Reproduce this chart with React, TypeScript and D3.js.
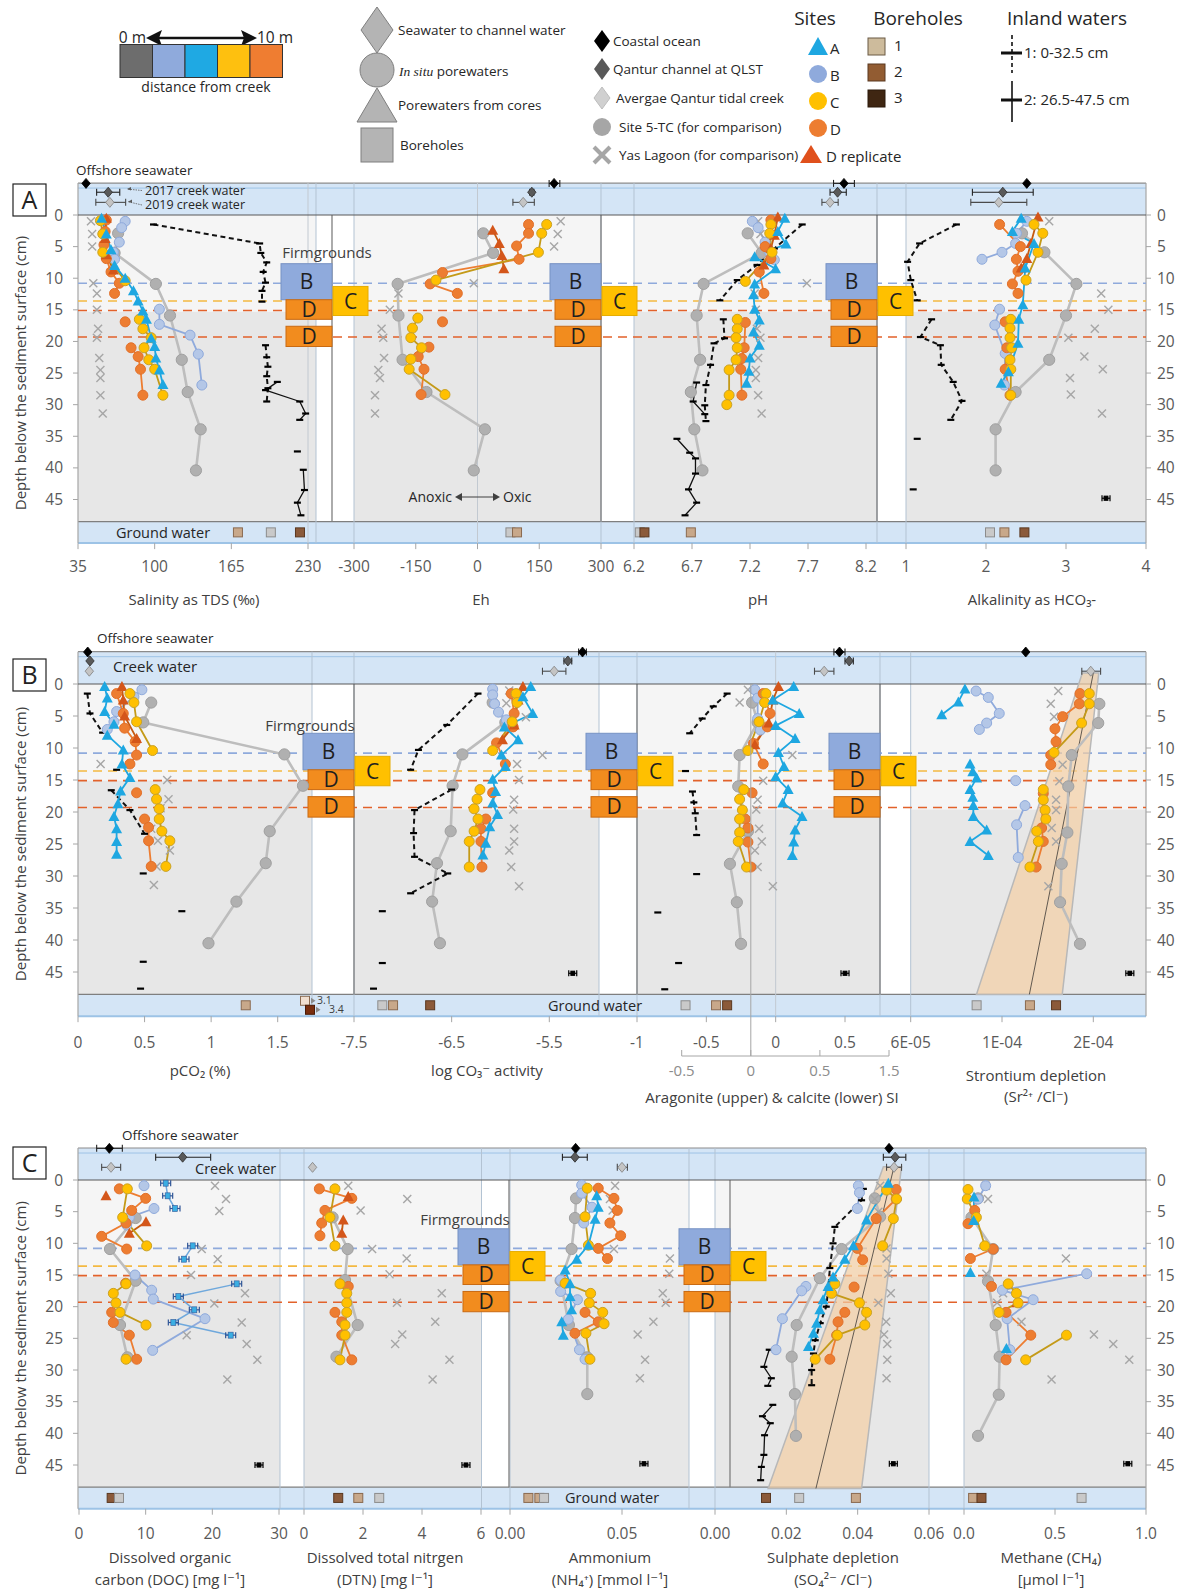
import React from 'react';
import * as d3 from 'd3';

type Pt = [number, number] | null;
type Ref = [string, number, number?, number?];
type Gw = [number, string];

// Depth (cm) / value pairs per site; null breaks a profile line.
// ---------- Salinity as TDS (‰) ----------
const tdsA: Pt[] = [[0.5, 55], [3, 59], [5.5, 63], [8, 66], [10, 75], [12, 82], [13.6, 86], [15.2, 90], [16.5, 93], [19.5, 97], [20.8, 100], [22.6, 101], [24.5, 104], [26.8, 107]];
const tdsB: Pt[] = [[1, 75], [2, 72], [4.3, 70], [5.9, 65], [7, 66], null, [14.9, 104], [17.3, 104], [19, 130], [22, 137], [26.9, 140]];
const tdsC: Pt[] = [[0.9, 54], [3, 56], [5.9, 56], [10.4, 75], null, [16.5, 87], [18, 90], [19.4, 97], [21, 91], [22.9, 95], [24.4, 100], [28.5, 107]];
const tdsD: Pt[] = [[0.8, 59], [2.6, 58], [4.7, 57], [6.9, 59], [9, 63], [10.8, 70], [12.4, 66], null, [16.9, 75], null, [21, 80], [22.4, 86], [24.4, 88], [28.5, 90]];
const tdsR: Pt[] = [[0.5, 59], [3.7, 58], [6.3, 59], [8.7, 65]];
const tdsT: Pt[] = [[2.9, 69], [6, 66], [10.9, 101], [15.9, 113], [22.9, 123], [28, 128], [33.9, 139], [40.4, 135]];
const tdsY: Pt[] = [[1, 46], [3, 47], [5, 47], [10.8, 48], [12.4, 51], [15, 51], [18, 52], [19.4, 51], [22.6, 53], [24.5, 54], [25.8, 54], [28.5, 54], [31.4, 56]];
const tdsI1: Pt[] = [[1.5, 99], [4.5, 189], [6, 190], [7.5, 195], [9, 192], [10.7, 194], [12, 191], [13.7, 191], null, [20.6, 194], [22.5, 195], [24, 196], [25.5, 195], [27.4, 196], [29.5, 195]];
const tdsI2: Pt[] = [[26.4, 204], [27.7, 194], [29.5, 223], [31.4, 228], [32.4, 223], null, [37.4, 221], null, [40.3, 226], [43.5, 227], [45.5, 221], [47.5, 224]];
const tdsRef: Ref[] = [['o', 41.8], ['h', 60.6, 50.8, 70.4], ['k', 62, 50.1, 75.4]];
const tdsGw: Gw[] = [[170.6, 't'], [198.5, 'g'], [223.2, 'b']];

// ---------- Eh (mV) ----------
const ehC: Pt[] = [[1.5, 168], [2.9, 156], [5.9, 148], [10.3, -101], null, [16.3, -145], [17.9, -158], [19.4, -162], [21, -136], [22.8, -162], [24.4, -166], [28.4, -79]];
const ehD: Pt[] = [[1.5, 124], [2.9, 124], [4.9, 95], [7, 101], [9.1, -85], [10.9, -115], [12.4, -49], null, [16.9, -85], null, [20.9, -118], [22.4, -144], [24.4, -130], [28.4, -137]];
const ehR: Pt[] = [[2.4, 37], [4.5, 53], [6.4, 59], [8.5, 64]];
const ehT: Pt[] = [[2.9, 14], [6, 38], [10.9, -194], [15.9, -192], [22.9, -182], [28, -124], [33.9, 18], [40.4, -9]];
const ehY: Pt[] = [[1, 202], [3, 195], [5, 186], [10.8, -9], [12.4, -192], [15, -213], [18, -233], [19.4, -229], [22.6, -227], [24.5, -241], [25.8, -237], [28.5, -249], [31.4, -249]];
const ehRef: Ref[] = [['o', 186, 174, 200], ['h', 132, 127, 137], ['k', 111, 86, 138]];
const ehGw: Gw[] = [[80, 'g'], [96, 't']];

// ---------- pH ----------
const phA: Pt[] = [[0.5, 7.5], [2.6, 7.44], [4.6, 7.51], [6.6, 7.24], [8.5, 7.42], [10.9, 7.24], [12.6, 7.23], [14.9, 7.24], [16.6, 7.28], [18.5, 7.23], [20.6, 7.28], [22.6, 7.2], [24.7, 7.19], [26.6, 7.17]];
const phB: Pt[] = [[1, 7.22], [2, 7.27], [4.3, 7.33], [5.9, 7.37], [7.1, 7.41]];
const phC: Pt[] = [[1.5, 7.38], [2.9, 7.37], [5.9, 7.39], [10.5, 7.16], null, [16.5, 7.09], [18, 7.09], [19.4, 7.08], [21, 7.09], [22.9, 7.08], [24.5, 7.02], [28.5, 7.02], [30, 7.0]];
const phD: Pt[] = [[0.8, 7.38], [5, 7.33], [6.9, 7.38], [9, 7.28], [12.4, 7.32], null, [17, 7.16], [21, 7.15], [22.7, 7.13], [24.4, 7.12], [28.5, 7.13]];
const phR: Pt[] = [[0.3, 7.44], [3.2, 7.41], [5.3, 7.38], [7.9, 7.32]];
const phT: Pt[] = [[2.9, 7.18], [6, 7.3], [10.9, 6.8], [15.9, 6.74], [22.9, 6.77], [28, 6.69], [33.9, 6.72], [40.4, 6.79]];
const phY: Pt[] = [[1, 7.27], [3, 7.29], [5, 7.33], [10.8, 7.69], [12.4, 7.24], [15, 7.25], [18, 7.26], [19.4, 7.29], [22.6, 7.27], [24.5, 7.25], [25.8, 7.25], [28.5, 7.27], [31.4, 7.3]];
const phI1: Pt[] = [[1.5, 7.65], [5.3, 7.41], [7.9, 7.26], [10.3, 7.09], [13.5, 6.94], null, [16.5, 6.97], [19.5, 6.98], [20.3, 6.89], [23.7, 6.86], [26.9, 6.82], [30.1, 6.81], [32.6, 6.82]];
const phI2: Pt[] = [[26.5, 6.74], [29.5, 6.71], [31.5, 6.81], null, [35.4, 6.57], [37.6, 6.68], [38.5, 6.73], [40.9, 6.73], [43.4, 6.67], [45.5, 6.74], [47.5, 6.64]];
const phRef: Ref[] = [['o', 8.01, 7.92, 8.1], ['h', 7.955, 7.89, 8.03], ['k', 7.89, 7.82, 7.96]];
const phGw: Gw[] = [[6.25, 'g'], [6.29, 'b'], [6.69, 't']];

// ---------- Alkalinity as HCO3- ----------
const alkA: Pt[] = [[0.5, 2.44], [2.6, 2.33], [4.5, 2.6], [8.4, 2.49], [14.2, 2.46], [16.5, 2.41], [20.3, 2.4], [24.8, 2.28], [26.6, 2.19]];
const alkB: Pt[] = [[1, 2.51], [2.9, 2.38], [4.5, 2.37], [5.9, 2.2], [7, 1.95], null, [14.9, 2.17], [17.4, 2.11], [21.9, 2.24], [26.9, 2.23]];
const alkC: Pt[] = [[1.5, 2.6], [2.9, 2.71], [5.9, 2.65], [10.3, 2.5], null, [16.5, 2.31], [17.9, 2.3], [19.4, 2.3], [21, 2.32], [22.9, 2.3], [24.4, 2.31], [28.5, 2.31]];
const alkD: Pt[] = [[1.5, 2.17], [5, 2.43], [7, 2.38], [8.9, 2.4], [10.9, 2.33], [12.4, 2.4], null, [16.9, 2.24], null, [21, 2.26], [24.4, 2.24], [28.5, 2.3]];
const alkR: Pt[] = [[0.3, 2.65], [4.5, 2.56], [6.9, 2.51], [8.4, 2.44]];
const alkT: Pt[] = [[2.9, 2.45], [5.9, 2.73], [10.9, 3.13], [15.9, 3.0], [22.9, 2.79], [28, 2.37], [33.9, 2.12], [40.4, 2.12]];
const alkY: Pt[] = [[1, 2.79], [12.4, 3.44], [15, 3.53], [18, 3.36], [19.4, 3.03], [22.4, 3.23], [24.4, 3.46], [25.8, 3.05], [28.4, 3.06], [31.4, 3.45]];
const alkI1: Pt[] = [[1.5, 1.63], [4.5, 1.17], [7.4, 1.02], [10.3, 1.06], [13.5, 1.14], null, [16.5, 1.32], [19.3, 1.18], [20.6, 1.43], [23.7, 1.44], [26.4, 1.59], [29.4, 1.7], [32.4, 1.56]];
const alkI2: Pt[] = [[35.4, 1.14], null, [43.4, 1.09]];
const alkRef: Ref[] = [['o', 2.51], ['h', 2.21, 1.83, 2.59], ['k', 2.16, 1.81, 2.51]];
const alkGw: Gw[] = [[2.05, 'g'], [2.23, 't'], [2.48, 'b']];
const alkErr: [number, number] = [44.8, 3.5];

// ---------- pCO2 (%) ----------
const pco2A: Pt[] = [[0.4, 0.2], [2.2, 0.22], [4.3, 0.2], [6.3, 0.27], [8, 0.22], [10.3, 0.34], [12.5, 0.33], [14.6, 0.39], [16.7, 0.32], [18.7, 0.3], [20.7, 0.27], [22.6, 0.29], [24.6, 0.29], [26.6, 0.29]];
const pco2B: Pt[] = [[0.9, 0.48], [2, 0.42], [4.3, 0.29], [5.9, 0.27], [7.1, 0.22]];
const pco2C: Pt[] = [[1.5, 0.39], [2.9, 0.42], [5.9, 0.44], [10.4, 0.56], null, [16.5, 0.58], [18, 0.59], [19.5, 0.61], [21.1, 0.61], [23, 0.63], [24.5, 0.69], [28.5, 0.66]];
const pco2D: Pt[] = [[1.5, 0.29], [4.6, 0.34], [6.9, 0.35], [9, 0.43], [11.1, 0.44], [12.5, 0.39], null, [17, 0.44], null, [21.1, 0.5], [22.4, 0.53], [24.5, 0.53], [28.5, 0.55]];
const pco2R: Pt[] = [[0.4, 0.33], [2.5, 0.34], [5, 0.35], [8.5, 0.44]];
const pco2T: Pt[] = [[2.9, 0.55], [6, 0.49], [11, 1.55], [15.9, 1.69], [23, 1.44], [28, 1.41], [34, 1.19], [40.5, 0.98]];
const pco2Y: Pt[] = [[12.5, 0.17], [15, 0.67], [18, 0.68], [19.4, 0.62], [22.6, 0.55], [24.5, 0.6], [26, 0.69], [28.5, 0.59], [31.4, 0.57]];
const pco2I1: Pt[] = [[1.5, 0.07], [4.6, 0.09], [7.6, 0.185], null, [13.4, 0.29], null, [16.6, 0.25], [19.7, 0.39], [23.4, 0.5]];
const pco2I2: Pt[] = [[29.6, 0.49], null, [35.5, 0.78], null, [43.4, 0.49], null, [47.6, 0.47]];
const pco2Ref: Ref[] = [['o', 0.073], ['h', 0.09], ['k', 0.085]];
const pco2Gw: Gw[] = [[1.26, 't'], [3.1, 'l'], [3.4, 'd']];

// ---------- log CO3 activity ----------
const lcA: Pt[] = [[0.4, -5.69], [2, -5.77], [4.6, -5.67], [6.7, -5.96], [8.7, -5.82], [11.1, -5.99], [12.9, -5.95], [14.9, -6.08], [16.8, -6.05], [18.6, -6.08], [20.4, -6.03], [22.3, -6.11], [24.9, -6.15], [26.7, -6.18]];
const lcB: Pt[] = [[0.8, -6.08], [1.7, -6.08], [3.1, -6.06], [4.4, -6.02], [5.6, -5.94]];
const lcC: Pt[] = [[1.5, -5.84], [2.9, -5.83], [5.9, -5.88], [10.4, -6.08], null, [16.5, -6.21], [18, -6.24], [19.5, -6.27], [21.1, -6.23], [23, -6.27], [24.6, -6.32], [28.6, -6.32]];
const lcD: Pt[] = [[1.5, -5.89], [4.6, -5.86], [6.7, -5.87], [9.2, -6.04], [12.5, -5.95], null, [17, -6.08], null, [21.1, -6.15], [22.6, -6.2], [24.6, -6.2], [28.6, -6.19]];
const lcR: Pt[] = [[0.4, -5.77], [2.5, -5.82], [6.4, -5.86], [8.7, -5.98]];
const lcT: Pt[] = [[2.9, -6.08], [6, -5.95], [11, -6.39], [15.9, -6.49], [23, -6.51], [28, -6.65], [34, -6.7], [40.5, -6.62]];
const lcY: Pt[] = [[1, -5.91], [3, -5.94], [5.2, -5.74], [11.1, -5.57], [12.5, -5.83], [15, -5.81], [18.1, -5.86], [19.6, -5.87], [22.6, -5.86], [24.6, -5.86], [26, -5.91], [28.6, -5.89], [31.6, -5.81]];
const lcI1: Pt[] = [[1.5, -6.23], [6.4, -6.55], [10.3, -6.84], [13.4, -6.92], null, [16.5, -6.5], [19.7, -6.88], [23.3, -6.89], [27, -6.88], [29.6, -6.54], [32.7, -6.92]];
const lcI2: Pt[] = [[35.5, -7.21], null, [43.6, -7.21], null, [47.6, -7.3]];
const lcRef: Ref[] = [['o', -5.16, -5.2, -5.12], ['h', -5.31, -5.35, -5.27], ['k', -5.45, -5.57, -5.33]];
const lcGw: Gw[] = [[-7.21, 'g'], [-7.1, 't'], [-6.72, 'b']];
const lcErr: [number, number] = [45.2, -5.26];

// ---------- Aragonite (upper) & calcite (lower) SI ----------
const arA: Pt[] = [[0.4, 0.13], [2.5, -0.02], [4.6, 0.17], [6.5, 0.0], [8.5, 0.14], [10.7, 0.02], [12.9, 0.06], [14.5, 0.0], [16.5, 0.09], [18.6, 0.05], [20.7, 0.19], [22.8, 0.14], [24.7, 0.13], [26.8, 0.12]];
const arB: Pt[] = [[0.9, -0.15], [2.2, -0.13], [5.4, -0.13], [7.2, -0.11]];
const arC: Pt[] = [[1.5, -0.07], [2.9, -0.08], [5.9, -0.12], [10.4, -0.2], null, [16.5, -0.23], [18, -0.26], [19.7, -0.24], [21.1, -0.26], [23.2, -0.26], [24.6, -0.27], [28.6, -0.21]];
const arD: Pt[] = [[1.5, -0.09], [4.6, -0.04], [6.7, -0.06], [9.3, -0.16], [12.5, -0.09], null, [17, -0.17], null, [21.1, -0.22], [22.5, -0.2], [24.7, -0.2], [28.6, -0.18]];
const arR: Pt[] = [[0.4, 0.02], [2.5, -0.02], [6.1, -0.05], [9.5, -0.15]];
const arT: Pt[] = [[2.9, -0.17], [6, -0.13], [11.1, -0.26], [16, -0.27], [23, -0.2], [28.1, -0.33], [34.1, -0.28], [40.6, -0.25]];
const arY: Pt[] = [[0.9, -0.2], [2.9, -0.26], [11.1, 0.12], [15.1, -0.09], [18.1, -0.13], [19.6, -0.14], [22.6, -0.12], [24.6, -0.1], [26, -0.15], [28.6, -0.13], [31.6, -0.02]];
const arI1: Pt[] = [[1.5, -0.35], [3.5, -0.45], [5.4, -0.53], [7.7, -0.62], null, [13.6, -0.65], null, [16.8, -0.6], [18.5, -0.59], [20.2, -0.58], [23.6, -0.57]];
const arI2: Pt[] = [[29.7, -0.57], null, [35.7, -0.85], null, [43.6, -0.7], null, [47.7, -0.8]];
const arRef: Ref[] = [['o', 0.46, 0.42, 0.5], ['h', 0.53, 0.5, 0.56], ['k', 0.35, 0.28, 0.42]];
const arGw: Gw[] = [[-0.65, 'g'], [-0.43, 't'], [-0.35, 'b']];
const arErr: [number, number] = [45.2, 0.5];
const calciteTicks = [-0.5, 0, 0.5, 1];
const calciteLabels = ['-0.5', '0', '0.5', '1.5'];

// ---------- Strontium depletion (Sr2+/Cl-), in 1e-5 ----------
const srA: Pt[] = [[0.8, 8.97], [2.8, 8.61], [4.8, 7.7], null, [12.5, 9.25], [13.7, 9.4], [14.7, 9.61], [16.5, 9.25], [17.7, 9.4], [19, 9.43], [20.7, 9.43], [22.8, 10.16], [24.6, 9.25], [26.8, 10.25]];
const srB: Pt[] = [[1.1, 9.58], [2.1, 10.25], [4.6, 10.85], [6.1, 10.16], [7.1, 9.76], null, [15.1, 11.75], null, [19, 12.26], [22, 11.8], [27.1, 11.89]];
const srC: Pt[] = [[1.5, 15.78], [3.1, 15.78], [6.1, 15.36], [10.7, 13.85], null, [16.5, 13.26], [18.1, 13.26], [19.7, 13.36], [21.1, 13.4], [23, 12.9], [24.6, 12.99], [28.6, 12.53]];
const srD: Pt[] = [[1.5, 15.27], [3.1, 15.24], [5.1, 14.32], [7, 13.9], [9, 13.96], [11.1, 13.67], [12.6, 13.67], null, [17.1, 13.26], [22.5, 13.17], [24.6, 13.26], [28.6, 12.87]];
const srT: Pt[] = [[3.1, 16.33], [6.1, 16.27], [11.1, 14.82], [16, 14.63], [23.2, 14.58], [28.1, 14.27], [34.1, 14.18], [40.6, 15.27]];
const srY: Pt[] = [[1.1, 14.08], [3.1, 13.67], [5.1, 13.85], [12.6, 14.32], [15.2, 14.14], [18.1, 13.96], [19.7, 13.96], [22.5, 13.72], [24.6, 13.96], [31.6, 13.54]];
const srRef: Ref[] = [['o', 12.3], ['k', 15.86, 15.37, 16.4]];
const srGw: Gw[] = [[9.61, 'g'], [12.53, 't'], [13.96, 'b']];
const srErr: [number, number] = [45.2, 18.0];
const srWedge = [[-1.7, 15.4, 16.3, 16.0], [48.5, 9.6, 14.3, 12.5]];

// ---------- Dissolved organic carbon (mg/l) ----------
const docA: Pt[] = [[0.5, 13], [2.5, 13.3], [4.5, 14.4], null, [10.4, 17.05], [12.5, 15.75], null, [16.4, 23.65], [18.4, 14.9], [20.5, 17.3], [22.5, 14.15], [24.5, 22.75]];
const docB: Pt[] = [[0.9, 9.75], null, [4.5, 11.25], [5.9, 7.55], [7.1, 7.15], null, [15, 8.4], [17.4, 10.9], [18.8, 11.15], [21.9, 18.9], [26.9, 11.05]];
const docC: Pt[] = [[1.4, 7.25], [5.9, 6.55], [10.4, 10.15], null, [16.4, 7.05], [17.9, 5.15], [19.4, 5.55], [20.9, 6.15], [22.9, 10.05], null, [28.3, 7.05]];
const docD: Pt[] = [[1.4, 6.05], [2.9, 10], [4.8, 7.9], [6.8, 7.05], [8.9, 3.4], [10.9, 7.15], null, [16.3, 7], null, [20.9, 4.9], [22.5, 5.15], [24.5, 7.55], [28.3, 8.65]];
const docR: Pt[] = [[2.5, 4.05], null, [6.6, 10.05], [8.4, 7.55]];
const docT: Pt[] = [[6, 8.5], [10.9, 4.65], [15.9, 8.5], [22.9, 6.15], [28, 7.25]];
const docY: Pt[] = [[0.9, 20.4], [3, 22.05], [4.9, 21.05], [10.9, 18.4], [12.5, 20.8], [15, 16.8], [17.9, 24.9], [19.5, 20.3], [22.5, 24.4], [24.5, 16.15], [25.9, 25.15], [28.4, 26.75], [31.5, 22.25]];
const docRef: Ref[] = [['o', 4.55, 2.65, 6.5], ['h', 15.55, 11.5, 19.75], ['k', 4.8, 3.4, 6.25]];
const docGw: Gw[] = [[4.9, 'b'], [6.0, 'g']];
const docErr: [number, number] = [45, 27];

// ---------- Dissolved total nitrogen (mg/l) ----------
const dtnC: Pt[] = [[1.4, 1.05], [5.9, 0.88], [10.4, 1.05], null, [16.4, 1.22], [17.9, 1.45], [19.4, 1.45], [20.9, 1.45], [22.9, 1.39], [24.5, 1.39], [28.4, 1.22]];
const dtnD: Pt[] = [[1.4, 0.52], [2.9, 1.62], [4.8, 0.71], [6.8, 0.6], [8.8, 0.54], null, [16.8, 1.5], null, [20.9, 1.05], [22.4, 1.28], [24.5, 1.28], [28.4, 1.62]];
const dtnR: Pt[] = [[2.6, 1.5], null, [6.3, 1.33], [8.4, 1.28]];
const dtnT: Pt[] = [[5.9, 0.97], [10.9, 1.48], [15.8, 1.39], [22.9, 1.82], [27.9, 1.1]];
const dtnY: Pt[] = [[0.9, 1.5], [3, 3.5], [4.8, 1.92], [10.9, 2.31], [12.4, 3.48], [14.9, 2.9], [17.9, 4.67], [19.4, 3.15], [22.4, 4.45], [24.4, 3.33], [25.9, 3.09], [28.4, 4.93], [31.5, 4.36]];
const dtnRef: Ref[] = [['k', 0.29]];
const dtnGw: Gw[] = [[1.16, 'b'], [1.84, 't'], [2.55, 'g']];
const dtnErr: [number, number] = [45, 5.49];

// ---------- Ammonium (mmol/l) ----------
const nhA: Pt[] = [[2.5, 0.0387], [4.3, 0.0394], [6.2, 0.038], [10.3, 0.035], [12.5, 0.0298], [14.2, 0.0246], [16.4, 0.0268], [18.4, 0.0268], [20.5, 0.0275], [22.4, 0.0231], [24.5, 0.0238]];
const nhB: Pt[] = [[0.8, 0.032], [2.1, 0.032], [4.3, 0.0366], [6.8, 0.0329], null, [15.8, 0.0226], [17.6, 0.0226], [18.9, 0.0301], [22, 0.026], [26.8, 0.031], [28.3, 0.0335]];
const nhC: Pt[] = [[1.3, 0.0345], [5.8, 0.0335], [10.3, 0.035], null, [16.3, 0.0246], [17.9, 0.036], [19.4, 0.0354], [20.9, 0.0414], [22.7, 0.042], [24.2, 0.0339], [28.3, 0.0357]];
const nhD: Pt[] = [[1.3, 0.0394], [2.9, 0.0464], [4.8, 0.0479], [6.8, 0.0446], [8.8, 0.0494], [10.8, 0.0394], [12.4, 0.0435], null, [20.9, 0.0335], [22.4, 0.0394], [24.2, 0.029]];
const nhT: Pt[] = [[2.9, 0.0295], [6, 0.029], [10.9, 0.0275], [15.9, 0.0226], [22.9, 0.0263], [28, 0.0345], [33.8, 0.0345]];
const nhY: Pt[] = [[0.9, 0.0469], [3, 0.0446], [4.8, 0.0458], [10.9, 0.0464], [12.4, 0.0714], [14.8, 0.0711], [17.9, 0.0682], [19.4, 0.0695], [22.4, 0.064], [24.4, 0.057], [28.4, 0.0603], [31.3, 0.058]];
const nhRef: Ref[] = [['o', 0.0293], ['h', 0.029, 0.0234, 0.0345], ['k', 0.05, 0.0479, 0.0524]];
const nhGw: Gw[] = [[0.0082, 't'], [0.0131, 't'], [0.0152, 'g']];
const nhErr: [number, number] = [44.8, 0.0598];

// ---------- Sulphate depletion (SO4/Cl) ----------
const soA: Pt[] = [[0.5, 0.0486], [6.3, 0.0425], [10.4, 0.0388], [12.5, 0.0364], [15.3, 0.0331], [16.8, 0.0317], [18.9, 0.0303], [20.5, 0.0294], [22.6, 0.0285], [24.2, 0.0276], [26.3, 0.0262]];
const soB: Pt[] = [[0.9, 0.0402], [2, 0.0405], [4.5, 0.0399], null, [16.8, 0.0255], [17.5, 0.0243], [21.9, 0.0189], [26.8, 0.0171]];
const soC: Pt[] = [[1.6, 0.0481], [3, 0.0509], [6.1, 0.05], [10.4, 0.047], null, [16.4, 0.0336], [17.9, 0.0327], [19.4, 0.0405], [20.9, 0.0425], [22.9, 0.042], [24.5, 0.0343], [28.3, 0.0281]];
const soD: Pt[] = [[1.5, 0.0508], [3, 0.0508], [6.1, 0.0452], [10.8, 0.0399], [12.6, 0.0414], null, [16.9, 0.039], null, [20.9, 0.0364], [22.4, 0.0345], [24.5, 0.0341], [28.3, 0.0322]];
const soT: Pt[] = [[2.9, 0.0448], [5.8, 0.0463], [10.9, 0.0355], [15.5, 0.0294], [22.9, 0.0229], [27.9, 0.0215], [33.8, 0.0224], [40.4, 0.0227]];
const soY: Pt[] = [[0.9, 0.0463], [3, 0.0448], [5, 0.0458], [10.8, 0.0481], [12.4, 0.0481], [14.8, 0.0486], [17.9, 0.0493], [19.4, 0.0458], [22.4, 0.048], [24.4, 0.0474], [25.9, 0.0483], [28.4, 0.0483], [31.3, 0.0481]];
const soI1: Pt[] = [[1.4, 0.0416], [3.2, 0.0411], [7.4, 0.0336], [10, 0.0331], [13.9, 0.0322], [17, 0.0318], [20, 0.0312], [22.6, 0.0295], [25.3, 0.0281], [27.4, 0.0276], [30, 0.0271], [32.4, 0.0271]];
const soI2: Pt[] = [[26.8, 0.0152], [29.5, 0.0137], [31.3, 0.0158], [32.5, 0.0148], null, [35.5, 0.0162], [37.3, 0.0133], [38.4, 0.0155], [40.3, 0.0139], [43.4, 0.0137], [45.3, 0.013], [47.4, 0.0128]];
const soRef: Ref[] = [['o', 0.0488], ['h', 0.0505, 0.0472, 0.0535], ['k', 0.0502, 0.0481, 0.0523]];
const soGw: Gw[] = [[0.0143, 'b'], [0.0236, 'g'], [0.0395, 't']];
const soErr: [number, number] = [44.8, 0.05];
const soWedge = [[-2.1, 0.0472, 0.0523, 0.0502], [48.7, 0.0149, 0.0411, 0.0283]];

// ---------- Methane (µmol/l) ----------
const chA: Pt[] = [[2.7, 0.055], [6.4, 0.053], null, [14.6, 0.035], null, [26.6, 0.233]];
const chB: Pt[] = [[0.9, 0.119], [3, 0.077], null, [14.8, 0.674], [17.4, 0.211], [18.9, 0.38], [21.9, 0.237], [26.8, 0.252]];
const chC: Pt[] = [[1.5, 0.022], [3, 0.018], [5.9, 0.068], [10.4, 0.114], null, [16.4, 0.243], [17.9, 0.288], [19.4, 0.297], [20.9, 0.193], null, [24.5, 0.563], [28.4, 0.339]];
const chD: Pt[] = [[4.8, 0.059], [6.9, 0.022], null, [10.9, 0.16], [12.4, 0.035], null, [16.8, 0.151], null, [20.9, 0.231], [24.5, 0.367], [28.4, 0.231]];
const chR: Pt[] = [[19.4, 0.29]];
const chT: Pt[] = [[2.9, 0.077], [5.9, 0.041], [10.9, 0.16], [16, 0.132], [22.9, 0.174], [27.9, 0.196], [33.9, 0.191], [40.4, 0.077]];
const chY: Pt[] = [[0.9, 0.12], [3, 0.132], [12.4, 0.56], [14.8, 0.123], [17.9, 0.215], [19.4, 0.182], [22.4, 0.316], [24.4, 0.714], [25.9, 0.82], [28.4, 0.908], [31.5, 0.481]];
const chGw: Gw[] = [[0.05, 't'], [0.096, 'b'], [0.646, 'g']];
const chErr: [number, number] = [44.8, 0.9];

// Firmground horizons and boxes
const horizonDepths = [10.8, 13.6, 15.1, 19.3];
const horizonColors = ['#8faadc', '#f4b942', '#e2622b', '#e2622b'];
const firmBoxes: [string, number, number][] = [['B', 7.7, 13.4], ['D', 13.4, 16.5], ['D', 17.6, 20.8], ['C', 11.3, 15.9]];
const depthTicks = [0, 5, 10, 15, 20, 25, 30, 35, 40, 45];

// ---------------------------------------------------------------
const FONT = "'Open Sans', 'DejaVu Sans', sans-serif";
const INK = '#595959';
const LEFT = 78;
const RIGHT = 1146;
const BAND_TOP = -5.05;
const PLOT_BOTTOM = 48.5;
const GW_BOTTOM = 51.9;
const GW_MID = 50.2;
const REF_DEPTH: Record<string, number> = { o: -5.0, h: -3.6, k: -2.0 };

const diamond = (x: number, y: number, w: number, h: number) =>
  `M${x},${y - h}L${x + w},${y}L${x},${y + h}L${x - w},${y}Z`;
const triangle = (x: number, y: number, w: number, h: number) =>
  `M${x},${y - h * 0.55}L${x + w},${y + h * 0.45}L${x - w},${y + h * 0.45}Z`;

const excelExp = (v: number) => {
  const [m, e] = (v * 1e-5).toExponential(0).split('e');
  const n = Math.abs(+e);
  return `${m}E${+e < 0 ? '-' : '+'}${String(n).padStart(2, '0')}`;
};

const LINE_STYLE: Record<string, { c?: string; w?: number; dash?: string }> = {
  T: { c: '#bdbdbd', w: 2.6 },
  Y: {},
  I1: { c: '#111', w: 2, dash: '5,3.5' },
  I2: { c: '#111', w: 1.3 },
  B: { c: '#8faadc', w: 1.8 },
  D: { c: '#ed7d31', w: 1.8 },
  R: { c: '#c55a11', w: 1.8 },
  C: { c: '#c49a18', w: 1.8 },
  A: { c: '#1ea7e1', w: 1.8 },
  AE: { c: '#6fa8dc', w: 1.5 },
};

function Marker({ kind, x, y }: { kind: string; x: number; y: number }) {
  switch (kind) {
    case 'T':
      return <circle cx={x} cy={y} r={5.6} fill="#b0b0b0" stroke="#a0a0a0" strokeWidth={1} />;
    case 'B':
      return <circle cx={x} cy={y} r={5} fill="#b4c7e7" stroke="#8faadc" strokeWidth={1} />;
    case 'C':
      return <circle cx={x} cy={y} r={5} fill="#ffc000" stroke="#c9a227" strokeWidth={1} />;
    case 'D':
      return <circle cx={x} cy={y} r={5} fill="#ed7d31" stroke="#e2702a" strokeWidth={1} />;
    case 'R':
      return <path d={triangle(x, y, 5.5, 10)} fill="#d4561a" />;
    case 'A':
      return <path d={triangle(x, y, 5.5, 10)} fill="#1ea7e1" />;
    case 'AE':
      return (
        <g stroke="#2f5597" strokeWidth={1.2}>
          <line x1={x - 5} x2={x + 5} y1={y} y2={y} />
          <line x1={x - 5} x2={x - 5} y1={y - 3} y2={y + 3} />
          <line x1={x + 5} x2={x + 5} y1={y - 3} y2={y + 3} />
          <rect x={x - 2.5} y={y - 3} width={5} height={6} fill="#3aaee3" strokeWidth={0.6} />
        </g>
      );
    case 'Y':
      return (
        <g stroke="#a6a6a6" strokeWidth={1.4}>
          <line x1={x - 4} y1={y - 4} x2={x + 4} y2={y + 4} />
          <line x1={x - 4} y1={y + 4} x2={x + 4} y2={y - 4} />
        </g>
      );
    case 'I1':
    case 'I2':
      return <line x1={x - 3.5} x2={x + 3.5} y1={y} y2={y} stroke="#000" strokeWidth={2.2} />;
    default:
      return null;
  }
}

const GW_FILL: Record<string, [string, string]> = {
  g: ['#c9c9c9', '#8c8c8c'],
  t: ['#c8a88a', '#8a6a50'],
  b: ['#8b5a3a', '#5a3820'],
  l: ['#f1dfd0', '#8a6a50'],
  d: ['#7a2e0e', '#4a1a05'],
};

type Series = { kind: string; data: Pt[] };
const ser = (kind: string, data: Pt[]): Series => ({ kind, data });

interface Sub {
  area: [number, number];
  dom: [number, number];
  rng: [number, number];
  ticks: number[];
  fmt: (v: number) => string;
  darkFrom: number;
  title: string[];
  titleX: number;
  titleY: number[];
  series: Series[];
  refs?: Ref[];
  gw?: Gw[];
  err?: [number, number];
  wedge?: number[][];
  axisAt?: number[];
}

interface PanelCfg {
  letter: string;
  boxY: number;
  y0: number;
  y45: number;
  tickY: number;
  dividers: number[];
  firmX: number;
  firmD: number;
  gwLabelX: number;
  offshoreX: number;
  subs: Sub[];
  extra?: (y: d3.ScaleLinear<number, number>) => React.ReactNode;
}

function SubData({ s, y }: { s: Sub; y: d3.ScaleLinear<number, number> }) {
  const x = d3.scaleLinear().domain(s.dom).range(s.rng);
  const line = d3
    .line<Pt>()
    .defined((d) => d !== null)
    .x((d) => x((d as [number, number])[1]))
    .y((d) => y((d as [number, number])[0]));
  const xMax = s.area[1];
  let off = 0;
  return (
    <g>
      {s.wedge && (
        <g>
          <path
            d={`M${x(s.wedge[0][1])},${y(s.wedge[0][0])}L${x(s.wedge[0][2])},${y(s.wedge[0][0])}L${x(s.wedge[1][2])},${y(s.wedge[1][0])}L${x(s.wedge[1][1])},${y(s.wedge[1][0])}Z`}
            fill="#f4cfa4"
            fillOpacity={0.7}
            stroke="#b8b8b8"
            strokeWidth={1.5}
          />
          <line
            x1={x(s.wedge[0][3])}
            y1={y(s.wedge[0][0])}
            x2={x(s.wedge[1][3])}
            y2={y(s.wedge[1][0])}
            stroke="#222"
            strokeWidth={0.7}
          />
        </g>
      )}
      {s.series.map((sr, i) => {
        const st = LINE_STYLE[sr.kind];
        return st.c ? (
          <path key={i} d={line(sr.data) || ''} fill="none" stroke={st.c} strokeWidth={st.w} strokeDasharray={st.dash} strokeLinejoin="round" />
        ) : null;
      })}
      {s.series.map((sr, i) => (
        <g key={i}>
          {(sr.data.filter((d) => d !== null) as [number, number][]).map((p, j) => (
            <Marker key={j} kind={sr.kind} x={x(p[1])} y={y(p[0])} />
          ))}
        </g>
      ))}
      {s.refs &&
        s.refs.map((r, i) => {
          const yy = y(REF_DEPTH[r[0]]);
          const cx = x(r[1]);
          const fill = r[0] === 'o' ? '#000' : r[0] === 'h' ? '#5a5a5a' : '#c4c4c4';
          const stroke = r[0] === 'o' ? '#000' : r[0] === 'h' ? '#2a2a2a' : '#7f7f7f';
          const ec = r[0] === 'k' ? '#4a4a4a' : '#222';
          return (
            <g key={i}>
              {r[2] !== undefined && (
                <g stroke={ec} strokeWidth={1.1}>
                  <line x1={x(r[2] as number)} x2={x(r[3] as number)} y1={yy} y2={yy} />
                  <line x1={x(r[2] as number)} x2={x(r[2] as number)} y1={yy - 3.5} y2={yy + 3.5} />
                  <line x1={x(r[3] as number)} x2={x(r[3] as number)} y1={yy - 3.5} y2={yy + 3.5} />
                </g>
              )}
              <path d={diamond(cx, yy, 4.2, 5)} fill={fill} stroke={stroke} strokeWidth={0.8} />
            </g>
          );
        })}
      {s.gw &&
        s.gw.map((g, i) => {
          const [f, st] = GW_FILL[g[1]];
          let cx = x(g[0]);
          let cy = y(GW_MID);
          let label: string | null = null;
          let lx = 0;
          if (cx > xMax) {
            // off-scale borehole values are pinned to the axis end and labelled
            cx = xMax - 7 + off * 5;
            cy = y(GW_MID) + (off === 0 ? -4.5 : 4.5);
            label = String(g[0]);
            lx = xMax + 5 + off * 12;
            off += 1;
          }
          return (
            <g key={i}>
              <rect x={cx - 4.5} y={cy - 4.5} width={9} height={9} fill={f} stroke={st} strokeWidth={1} />
              {label && (
                <g>
                  <path d={`M${cx + 6},${cy - 3}L${cx + 10.5},${cy}L${cx + 6},${cy + 3}Z`} fill="#8c8c8c" />
                  <text x={lx} y={cy} dy="0.35em" fontSize={10.5} fill="#404040">{label}</text>
                </g>
              )}
            </g>
          );
        })}
      {s.err && (
        <g stroke="#000" strokeWidth={1.2}>
          <line x1={x(s.err[1]) - 4} x2={x(s.err[1]) + 4} y1={y(s.err[0])} y2={y(s.err[0])} />
          <line x1={x(s.err[1]) - 4} x2={x(s.err[1]) - 4} y1={y(s.err[0]) - 3} y2={y(s.err[0]) + 3} />
          <line x1={x(s.err[1]) + 4} x2={x(s.err[1]) + 4} y1={y(s.err[0]) - 3} y2={y(s.err[0]) + 3} />
          <rect x={x(s.err[1]) - 1.8} y={y(s.err[0]) - 2} width={3.6} height={4} fill="#000" />
        </g>
      )}
    </g>
  );
}

function Panel({ cfg }: { cfg: PanelCfg }) {
  const y = d3.scaleLinear().domain([0, 45]).range([cfg.y0, cfg.y45]);
  const yTop = y(BAND_TOP);
  const y0 = y(0);
  const yBot = y(PLOT_BOTTOM);
  const yGw = y(GW_BOTTOM);
  return (
    <g>
      {cfg.subs.map((s, i) => (
        <g key={i}>
          <rect x={s.area[0]} y={y0} width={s.area[1] - s.area[0]} height={y(s.darkFrom) - y0} fill="#f5f5f5" />
          <rect x={s.area[0]} y={y(s.darkFrom)} width={s.area[1] - s.area[0]} height={yBot - y(s.darkFrom)} fill="#e7e7e7" />
        </g>
      ))}
      <rect x={LEFT} y={yTop} width={RIGHT - LEFT} height={y0 - yTop} fill="#d4e5f6" />
      <rect x={LEFT} y={yBot} width={RIGHT - LEFT} height={yGw - yBot} fill="#d4e5f6" />
      <line x1={LEFT} x2={RIGHT} y1={yTop} y2={yTop} stroke="#8c8c8c" strokeWidth={1.2} />
      <line x1={LEFT} x2={RIGHT} y1={yTop + 5} y2={yTop + 5} stroke="#9dc3e6" strokeWidth={1} />
      <line x1={LEFT} x2={RIGHT} y1={yBot} y2={yBot} stroke="#7f7f7f" strokeWidth={1.2} />
      <line x1={LEFT} x2={RIGHT} y1={yGw} y2={yGw} stroke="#9dc3e6" strokeWidth={2} />
      {cfg.subs.map((s, i) => (
        <g key={i} stroke="#b3c3d3" strokeWidth={1}>
          {s.area[0] > LEFT + 1 && <line x1={s.area[0]} x2={s.area[0]} y1={yTop} y2={yGw} />}
          {s.area[1] < RIGHT - 1 && <line x1={s.area[1]} x2={s.area[1]} y1={yTop} y2={yGw} />}
          {(s.axisAt || []).map((v, j) => {
            const xx = d3.scaleLinear().domain(s.dom).range(s.rng)(v);
            return <line key={j} x1={xx} x2={xx} y1={yTop} y2={yGw} stroke="#c2c9d1" />;
          })}
        </g>
      ))}
      <line x1={LEFT} x2={LEFT} y1={yTop} y2={yGw} stroke="#a6a6a6" strokeWidth={1.2} />
      <line x1={RIGHT} x2={RIGHT} y1={yTop} y2={yGw} stroke="#a6a6a6" strokeWidth={1.2} />
      {cfg.dividers.map((dx, i) => (
        <line key={i} x1={dx} x2={dx} y1={y0} y2={yBot} stroke="#7f7f7f" strokeWidth={1.3} />
      ))}
      <line x1={LEFT} x2={RIGHT} y1={y0} y2={y0} stroke="#595959" strokeWidth={1.2} />
      {horizonDepths.map((d, i) => (
        <line key={i} x1={LEFT} x2={RIGHT} y1={y(d)} y2={y(d)} stroke={horizonColors[i]} strokeWidth={1.6} strokeDasharray="9,6" />
      ))}
      {cfg.dividers.map((dx, i) => (
        <g key={i}>
          {firmBoxes.map((b, j) => {
            const w = b[0] === 'B' ? 51 : b[0] === 'D' ? 46 : 35;
            const x0 = b[0] === 'C' ? dx + 1 : dx - w;
            const fill = b[0] === 'B' ? '#8faadc' : b[0] === 'D' ? '#f28c1e' : '#ffc000';
            const stroke = b[0] === 'B' ? '#7792c4' : b[0] === 'D' ? '#c96a12' : '#e6ac00';
            return (
              <g key={j}>
                <rect x={x0} y={y(b[1])} width={w} height={y(b[2]) - y(b[1])} fill={fill} stroke={stroke} strokeWidth={1} />
                <text x={x0 + w / 2} y={(y(b[1]) + y(b[2])) / 2} dy="0.36em" textAnchor="middle" fontSize={21} fill="#1f1f1f">
                  {b[0]}
                </text>
              </g>
            );
          })}
        </g>
      ))}
      <text x={cfg.firmX} y={y(cfg.firmD)} dy="0.35em" textAnchor="middle" fontSize={15} fill="#404040">
        Firmgrounds
      </text>
      {cfg.subs.map((s, i) => (
        <SubData key={i} s={s} y={y} />
      ))}
      {/* depth axes */}
      {depthTicks.map((t) => (
        <g key={t}>
          <line x1={LEFT - 5} x2={LEFT} y1={y(t)} y2={y(t)} stroke="#a6a6a6" />
          <line x1={RIGHT} x2={RIGHT + 5} y1={y(t)} y2={y(t)} stroke="#a6a6a6" />
          <text x={63} y={y(t)} dy="0.36em" textAnchor="end" fontSize={15.5} fill={INK}>{t}</text>
          <text x={1157} y={y(t)} dy="0.36em" textAnchor="start" fontSize={15.5} fill={INK}>{t}</text>
        </g>
      ))}
      <text
        transform={`translate(21,${y(25)}) rotate(-90)`}
        textAnchor="middle"
        dy="0.35em"
        fontSize={15}
        fill="#404040"
      >
        Depth below the sediment surface (cm)
      </text>
      {/* x axes */}
      {cfg.subs.map((s, i) => {
        const x = d3.scaleLinear().domain(s.dom).range(s.rng);
        return (
          <g key={i}>
            {s.ticks.map((t, j) => (
              <g key={j}>
                <line x1={x(t)} x2={x(t)} y1={yGw} y2={yGw + 6} stroke="#a6a6a6" />
                <text x={x(t)} y={cfg.tickY} dy="0.36em" textAnchor="middle" fontSize={15.5} fill={INK}>
                  {s.fmt(t)}
                </text>
              </g>
            ))}
            {s.title.map((t, j) => (
              <text key={j} x={s.titleX} y={s.titleY[j]} dy="0.36em" textAnchor="middle" fontSize={15} fill="#404040">
                {t}
              </text>
            ))}
          </g>
        );
      })}
      {/* panel letter */}
      <rect x={13} y={cfg.boxY} width={33} height={32} fill="#fff" stroke="#222" strokeWidth={1.2} />
      <text x={29.5} y={cfg.boxY + 16} dy="0.36em" textAnchor="middle" fontSize={25} fill="#222">
        {cfg.letter}
      </text>
      <text x={cfg.offshoreX} y={yTop - 13} dy="0.35em" fontSize={13.5} fill="#262626">Offshore seawater</text>
      <text x={cfg.gwLabelX} y={y(GW_MID)} dy="0.36em" textAnchor="middle" fontSize={14.5} fill="#262626">
        Ground water
      </text>
      {cfg.extra && cfg.extra(y)}
    </g>
  );
}

const f1 = d3.format('.1f');
const f2 = d3.format('.2f');
const plain = (v: number) => String(v);

const panelA: PanelCfg = {
  letter: 'A',
  boxY: 184,
  y0: 215,
  y45: 499.5,
  tickY: 566,
  dividers: [332, 601, 877],
  firmX: 327,
  firmD: 6.0,
  gwLabelX: 163,
  offshoreX: 76,
  subs: [
    {
      area: [78, 316], dom: [35, 230], rng: [78, 308], ticks: [35, 100, 165, 230], fmt: plain, darkFrom: 15.3,
      title: ['Salinity as TDS (‰)'], titleX: 194, titleY: [600], axisAt: [230],
      series: [ser('T', tdsT), ser('Y', tdsY), ser('I1', tdsI1), ser('I2', tdsI2), ser('B', tdsB), ser('D', tdsD), ser('R', tdsR), ser('C', tdsC), ser('A', tdsA)],
      refs: tdsRef, gw: tdsGw,
    },
    {
      area: [354, 601], dom: [-300, 300], rng: [354, 601], ticks: [-300, -150, 0, 150, 300], fmt: plain, darkFrom: 15.3,
      title: ['Eh'], titleX: 481, titleY: [600], axisAt: [0],
      series: [ser('T', ehT), ser('Y', ehY), ser('D', ehD), ser('R', ehR), ser('C', ehC)],
      refs: ehRef, gw: ehGw,
    },
    {
      area: [634, 877], dom: [6.2, 8.2], rng: [634, 866], ticks: [6.2, 6.7, 7.2, 7.7, 8.2], fmt: f1, darkFrom: 15.3,
      title: ['pH'], titleX: 758, titleY: [600],
      series: [ser('T', phT), ser('Y', phY), ser('I1', phI1), ser('I2', phI2), ser('B', phB), ser('D', phD), ser('R', phR), ser('C', phC), ser('A', phA)],
      refs: phRef, gw: phGw,
    },
    {
      area: [906, 1146], dom: [1, 4], rng: [906, 1146], ticks: [1, 2, 3, 4], fmt: plain, darkFrom: 15.3,
      title: ['Alkalinity as HCO₃-'], titleX: 1032, titleY: [600],
      series: [ser('T', alkT), ser('Y', alkY), ser('I1', alkI1), ser('I2', alkI2), ser('B', alkB), ser('D', alkD), ser('R', alkR), ser('C', alkC), ser('A', alkA)],
      refs: alkRef, gw: alkGw, err: alkErr,
    },
  ],
  extra: (y) => (
    <g fontSize={12.5} fill="#262626">
      <text x={145} y={190.5} dy="0.35em">2017 creek water</text>
      <text x={145} y={205} dy="0.35em">2019 creek water</text>
      <g stroke="#595959" strokeWidth={0.8} strokeDasharray="1.5,1">
        <line x1={142} x2={127} y1={190.5} y2={y(-4.1)} />
        <line x1={142} x2={128} y1={205} y2={y(-2.1)} />
      </g>
      <path d={`M127,${y(-4.1)}l4,-2.2l0,3.6z`} fill="#595959" />
      <path d={`M128,${y(-2.1)}l4,-2.2l0,3.6z`} fill="#595959" />
      <text x={452} y={497} dy="0.35em" textAnchor="end" fontSize={14}>Anoxic</text>
      <line x1={458} x2={497} y1={497} y2={497} stroke="#404040" strokeWidth={1.2} />
      <path d="M455,497l7,-4l0,8z" fill="#404040" />
      <path d="M500,497l-7,-4l0,8z" fill="#404040" />
      <text x={503} y={497} dy="0.35em" fontSize={14}>Oxic</text>
    </g>
  ),
};

const calciteScale = d3.scaleLinear().domain([-0.5, 1]).range([681.7, 889]);

const panelB: PanelCfg = {
  letter: 'B',
  boxY: 659,
  y0: 684,
  y45: 972,
  tickY: 1042,
  dividers: [354, 637, 880],
  firmX: 310,
  firmD: 6.5,
  gwLabelX: 595,
  offshoreX: 97,
  subs: [
    {
      area: [78, 312], dom: [0, 1.5], rng: [78, 277.7], ticks: [0, 0.5, 1, 1.5], fmt: plain, darkFrom: 15.1,
      title: ['pCO₂ (%)'], titleX: 200, titleY: [1071],
      series: [ser('T', pco2T), ser('Y', pco2Y), ser('I1', pco2I1), ser('I2', pco2I2), ser('B', pco2B), ser('D', pco2D), ser('R', pco2R), ser('C', pco2C), ser('A', pco2A)],
      refs: pco2Ref, gw: pco2Gw,
    },
    {
      area: [354, 599], dom: [-7.5, -5.5], rng: [354, 549.3], ticks: [-7.5, -6.5, -5.5], fmt: plain, darkFrom: 19.6,
      title: ['log CO₃⁻ activity'], titleX: 487, titleY: [1071],
      series: [ser('T', lcT), ser('Y', lcY), ser('I1', lcI1), ser('I2', lcI2), ser('B', lcB), ser('D', lcD), ser('R', lcR), ser('C', lcC), ser('A', lcA)],
      refs: lcRef, gw: lcGw, err: lcErr,
    },
    {
      area: [637, 880], dom: [-1, 0.5], rng: [637, 845], ticks: [-1, -0.5, 0, 0.5], fmt: plain, darkFrom: 19.6,
      title: [], titleX: 772, titleY: [],
      axisAt: [0],
      series: [ser('T', arT), ser('Y', arY), ser('I1', arI1), ser('I2', arI2), ser('B', arB), ser('D', arD), ser('R', arR), ser('C', arC), ser('A', arA)],
      refs: arRef, gw: arGw, err: arErr,
    },
    {
      area: [910.7, 1146], dom: [6, 16], rng: [910.7, 1093.3], ticks: [6, 11, 16], fmt: excelExp, darkFrom: 19.6,
      title: ['Strontium depletion', '(Sr²⁺ /Cl⁻)'], titleX: 1036, titleY: [1076, 1097],
      series: [ser('T', srT), ser('Y', srY), ser('B', srB), ser('D', srD), ser('C', srC), ser('A', srA)],
      refs: srRef, gw: srGw, err: srErr, wedge: srWedge,
    },
  ],
  extra: (y) => (
    <g>
      <text x={113} y={y(-2.7)} dy="0.35em" fontSize={15} fill="#262626">Creek water</text>
      <line x1={calciteScale(0)} x2={calciteScale(0)} y1={y(0)} y2={1056} stroke="#a6a6a6" strokeWidth={1} />
      <line x1={calciteScale(-0.5)} x2={calciteScale(1)} y1={1056} y2={1056} stroke="#a6a6a6" strokeWidth={1} />
      {calciteTicks.map((t, i) => (
        <g key={i}>
          <line x1={calciteScale(t)} x2={calciteScale(t)} y1={1050} y2={1056} stroke="#a6a6a6" />
          <text x={calciteScale(t)} y={1071} dy="0.36em" textAnchor="middle" fontSize={15} fill="#8c8c8c">
            {calciteLabels[i]}
          </text>
        </g>
      ))}
      <text x={772} y={1098} dy="0.36em" textAnchor="middle" fontSize={15} fill="#404040">
        Aragonite (upper) &amp; calcite (lower) SI
      </text>
    </g>
  ),
};

const panelC: PanelCfg = {
  letter: 'C',
  boxY: 1147,
  y0: 1180,
  y45: 1465,
  tickY: 1533,
  dividers: [509, 730],
  firmX: 465,
  firmD: 6.3,
  gwLabelX: 612,
  offshoreX: 122,
  subs: [
    {
      area: [79, 280], dom: [0, 30], rng: [79, 279], ticks: [0, 10, 20, 30], fmt: plain, darkFrom: 15.3,
      title: ['Dissolved organic', 'carbon (DOC) [mg l⁻¹]'], titleX: 170, titleY: [1558, 1580],
      series: [ser('T', docT), ser('Y', docY), ser('B', docB), ser('D', docD), ser('R', docR), ser('C', docC), ser('AE', docA)],
      refs: docRef, gw: docGw, err: docErr,
    },
    {
      area: [304, 481.5], dom: [0, 6], rng: [304, 481], ticks: [0, 2, 4, 6], fmt: plain, darkFrom: 15.3,
      title: ['Dissolved total nitrgen', '(DTN) [mg l⁻¹]'], titleX: 385, titleY: [1558, 1580],
      series: [ser('T', dtnT), ser('Y', dtnY), ser('D', dtnD), ser('R', dtnR), ser('C', dtnC)],
      refs: dtnRef, gw: dtnGw, err: dtnErr,
    },
    {
      area: [510, 689], dom: [0, 0.05], rng: [510, 622], ticks: [0, 0.05], fmt: f2, darkFrom: 15.3,
      title: ['Ammonium', '(NH₄⁺) [mmol l⁻¹]'], titleX: 610, titleY: [1558, 1580],
      series: [ser('T', nhT), ser('Y', nhY), ser('B', nhB), ser('D', nhD), ser('C', nhC), ser('A', nhA)],
      refs: nhRef, gw: nhGw, err: nhErr,
    },
    {
      area: [715, 929], dom: [0, 0.06], rng: [715, 929], ticks: [0, 0.02, 0.04, 0.06], fmt: f2, darkFrom: 15.3,
      title: ['Sulphate depletion', '(SO₄²⁻ /Cl⁻)'], titleX: 833, titleY: [1558, 1580],
      series: [ser('T', soT), ser('Y', soY), ser('I1', soI1), ser('I2', soI2), ser('B', soB), ser('D', soD), ser('C', soC), ser('A', soA)],
      refs: soRef, gw: soGw, err: soErr, wedge: soWedge,
    },
    {
      area: [964, 1146], dom: [0, 1], rng: [964, 1146], ticks: [0, 0.5, 1], fmt: f1, darkFrom: 15.3,
      title: ['Methane (CH₄)', '[µmol l⁻¹]'], titleX: 1051, titleY: [1558, 1580],
      series: [ser('T', chT), ser('Y', chY), ser('B', chB), ser('D', chD), ser('R', chR), ser('C', chC), ser('A', chA)],
      gw: chGw, err: chErr,
    },
  ],
  extra: (y) => (
    <text x={195} y={y(-1.7)} dy="0.35em" fontSize={14.5} fill="#262626">Creek water</text>
  ),
};

function Legend() {
  const bar = ['#6d6d6d', '#8faadc', '#1fa9e3', '#fec00f', '#ef7d31'];
  const shapeFill = '#b4b4b4';
  const shapeStroke = '#7f7f7f';
  return (
    <g fill="#262626">
      {/* distance from creek */}
      <text x={146} y={37} dy="0.36em" textAnchor="end" fontSize={15.5}>0 m</text>
      <line x1={156} x2={246} y1={38} y2={38} stroke="#111" strokeWidth={2.6} />
      <path d="M146,38l16,-8l-3,8l3,8z" fill="#111" />
      <path d="M257,38l-16,-8l3,8l-3,8z" fill="#111" />
      <text x={257} y={37} dy="0.36em" fontSize={15.5}>10 m</text>
      {bar.map((c, i) => (
        <rect key={i} x={120 + i * 32.5} y={44.5} width={32.5} height={33} fill={c} stroke="#333" strokeWidth={1} />
      ))}
      <text x={206} y={87} dy="0.36em" textAnchor="middle" fontSize={14}>distance from creek</text>

      {/* measurement types */}
      <path d={diamond(377, 30, 16, 23)} fill={shapeFill} stroke={shapeStroke} />
      <circle cx={377} cy={70} r={17} fill={shapeFill} stroke={shapeStroke} />
      <path d="M377,88L397,122L357,122Z" fill={shapeFill} stroke={shapeStroke} />
      <rect x={361} y={128} width={32} height={34} fill={shapeFill} stroke={shapeStroke} />
      <text x={398} y={30} dy="0.36em" fontSize={13.5}>Seawater to channel water</text>
      <text x={399} y={71} dy="0.36em" fontSize={13.5}>
        <tspan fontFamily="'Liberation Serif', serif" fontStyle="italic">In situ</tspan> porewaters
      </text>
      <text x={398} y={105} dy="0.36em" fontSize={13.5}>Porewaters from cores</text>
      <text x={400} y={145} dy="0.36em" fontSize={13.5}>Boreholes</text>

      {/* reference waters */}
      <path d={diamond(602, 41, 8, 11)} fill="#000" />
      <text x={613} y={41} dy="0.36em" fontSize={13.5}>Coastal ocean</text>
      <path d={diamond(602, 69, 8, 11)} fill="#595959" />
      <text x={613} y={69} dy="0.36em" fontSize={13.5}>Qantur channel at QLST</text>
      <path d={diamond(602, 98, 8, 11)} fill="#d0d0d0" stroke="#bdbdbd" />
      <text x={616} y={98} dy="0.36em" fontSize={13.5}>Avergae Qantur tidal creek</text>
      <circle cx={602} cy={127} r={9} fill="#a6a6a6" />
      <text x={619} y={127} dy="0.36em" fontSize={13.5}>Site 5-TC (for comparison)</text>
      <g stroke="#a6a6a6" strokeWidth={4}>
        <line x1={594} y1={147} x2={610} y2={163} />
        <line x1={594} y1={163} x2={610} y2={147} />
      </g>
      <text x={619} y={155} dy="0.36em" fontSize={13.5}>Yas Lagoon (for comparison)</text>

      {/* sites */}
      <text x={815} y={18} dy="0.36em" textAnchor="middle" fontSize={19}>Sites</text>
      <path d={triangle(818, 47, 10, 18)} fill="#1ea7e1" />
      <text x={830} y={49} dy="0.36em" fontSize={15}>A</text>
      <circle cx={818} cy={74} r={9} fill="#8faadc" />
      <text x={830} y={76} dy="0.36em" fontSize={15}>B</text>
      <circle cx={818} cy={101} r={9} fill="#ffc000" />
      <text x={830} y={103} dy="0.36em" fontSize={15}>C</text>
      <circle cx={818} cy={128} r={9} fill="#ed7d31" />
      <text x={830} y={130} dy="0.36em" fontSize={15}>D</text>
      <path d={triangle(811, 155, 11, 18)} fill="#e0501c" />
      <text x={826} y={157} dy="0.36em" fontSize={15}>D replicate</text>

      {/* boreholes */}
      <text x={918} y={18} dy="0.36em" textAnchor="middle" fontSize={19}>Boreholes</text>
      <rect x={868} y={38} width={17} height={17} fill="#cdbb9c" stroke="#6b5a45" />
      <text x={894} y={46} dy="0.36em" fontSize={15}>1</text>
      <rect x={868} y={64} width={17} height={17} fill="#925c32" stroke="#5a3820" />
      <text x={894} y={72} dy="0.36em" fontSize={15}>2</text>
      <rect x={868} y={90} width={17} height={17} fill="#3f2612" stroke="#2a180a" />
      <text x={894} y={98} dy="0.36em" fontSize={15}>3</text>

      {/* inland waters */}
      <text x={1067} y={18} dy="0.36em" textAnchor="middle" fontSize={19}>Inland waters</text>
      <line x1={1012} x2={1012} y1={35} y2={73} stroke="#111" strokeWidth={1.6} strokeDasharray="4,3" />
      <line x1={1001} x2={1022} y1={53} y2={53} stroke="#111" strokeWidth={3} />
      <text x={1024} y={53} dy="0.36em" fontSize={15}>1: 0-32.5 cm</text>
      <line x1={1012} x2={1012} y1={81} y2={122} stroke="#111" strokeWidth={1.6} />
      <line x1={1001} x2={1022} y1={100} y2={100} stroke="#111" strokeWidth={3} />
      <text x={1024} y={100} dy="0.36em" fontSize={15}>2: 26.5-47.5 cm</text>
    </g>
  );
}

export default function App() {
  return (
    <svg
      width={1184}
      height={1593}
      viewBox="0 0 1184 1593"
      style={{ position: 'absolute', left: 0, top: 0, display: 'block', fontFamily: FONT }}
    >
      <rect width={1184} height={1593} fill="#fff" />
      <Legend />
      <Panel cfg={panelA} />
      <Panel cfg={panelB} />
      <Panel cfg={panelC} />
    </svg>
  );
}
